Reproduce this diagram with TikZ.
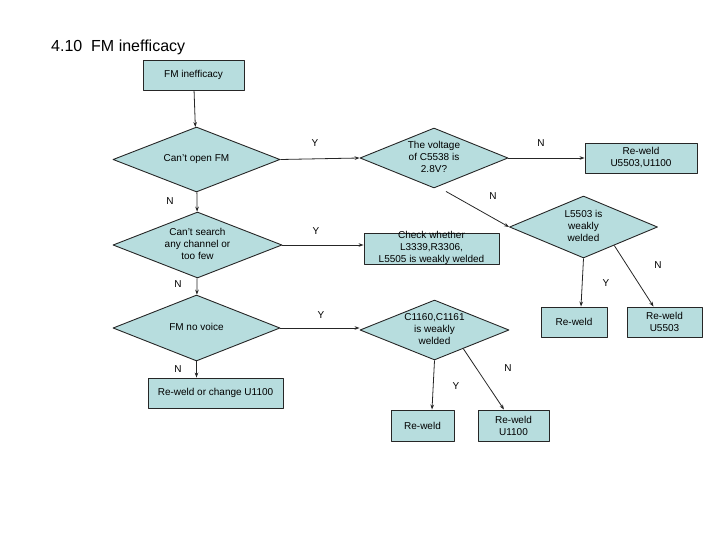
\documentclass[tikz,border=0pt]{standalone}
\usepackage{fontspec}
\setmainfont{Liberation Sans}
\usetikzlibrary{shapes.geometric,arrows.meta}
\definecolor{boxfill}{RGB}{183,221,222}
\newcommand{\flattext}[1]{\smash{\makebox[0pt]{\raisebox{-2.5pt}{\begin{tabular}{@{}c@{}}#1\end{tabular}}}}}
\tikzset{
	box/.style={draw=black!85,fill=boxfill,line width=0.9pt,rectangle,inner sep=0pt,align=center},
	dec/.style={draw=black!85,fill=boxfill,line width=0.9pt,diamond,inner sep=0pt,align=center},
	lbl/.style={inner sep=0pt},
	con/.style={->,line width=0.8pt,draw=black!85}
}
\begin{document}
\begin{tikzpicture}[x=1pt,y=-1pt,>={Stealth[length=5pt,width=3.6pt]},line join=round,font=\fontsize{10}{12}\selectfont]
	\useasboundingbox (0,0) rectangle (720,540);
	\node[anchor=base west,inner sep=0pt,font=\fontsize{16}{19}\selectfont] (title) at (51,52) {4.10\ \ FM inefficacy};
	% left column
	\node[box,minimum width=101pt,minimum height=30pt] (start) at (193.5,75) {FM inefficacy};
	\node[dec,minimum width=167pt,minimum height=65pt] (open) at (196.5,159.5) {\flattext{Can't open FM}};
	\node[dec,minimum width=169pt,minimum height=66pt] (search) at (197.5,245) {\flattext{Can't search\\any channel or\\too few}};
	\node[dec,minimum width=167pt,minimum height=66pt] (voice) at (196.5,328) {\flattext{FM no voice}};
	\node[box,minimum width=135pt,minimum height=30pt] (change) at (215.5,393) {Re-weld or change U1100};
	% middle column
	\node[dec,minimum width=148pt,minimum height=60pt] (volt) at (434,158) {\flattext{The voltage\\of C5538 is\\2.8V?}};
	\node[box,minimum width=135pt,minimum height=31pt] (check) at (431.5,248.5)
		{\flattext{Check whether\\L3339,R3306,\\L5505 is weakly welded}};
	\node[dec,minimum width=149pt,minimum height=60pt] (cweld) at (434.5,330) {\flattext{C1160,C1161\\is weakly\\welded}};
	\node[box,minimum width=63pt,minimum height=31pt] (rwa) at (422.5,425.5) {Re-weld};
	\node[box,minimum width=71pt,minimum height=31pt] (rwb) at (513.5,425.5) {Re-weld\\U1100};
	% right column
	\node[box,minimum width=112pt,minimum height=30pt] (rwc) at (641,158) {Re-weld\\U5503,U1100};
	\node[dec,minimum width=148pt,minimum height=62pt] (lweld) at (583.5,227) {\flattext{L5503 is\\weakly\\welded}};
	\node[box,minimum width=66pt,minimum height=30pt] (rwd) at (574,322) {Re-weld};
	\node[box,minimum width=75pt,minimum height=30pt] (rwe) at (664.5,322) {Re-weld\\U5503};
	% connectors
	\draw[con] (start) -- (open);
	\draw[con] (open) -- (search);
	\draw[con] (search) -- (voice);
	\draw[con] (voice.south) -- (voice.south |- change.north);
	\draw[con] (open.east) -- (volt.west);
	\draw[con] (volt.east) -- (rwc.west);
	\draw[con] ([xshift=12pt,yshift=-3pt]volt.south) -- (lweld.west);
	\draw[con] (search.east) -- (search.east -| check.west);
	\draw[con] (voice.east) -- (voice.east -| cweld.west);
	\draw[con] (lweld.south) -- ([xshift=7pt]rwd.north);
	\draw[con] (lweld.-31) -- ([xshift=-11pt]rwe.north);
	\draw[con] (cweld.south) -- ([xshift=9.5pt]rwa.north);
	\draw[con] (cweld.-33) -- ([xshift=-9.5pt]rwb.north);
	\foreach \x/\y/\t [count=\i] in {315/143/Y,541/143/N,493/196/N,606/283/Y,658/265/N,170/201/N,316/231/Y,178/284/N,178/369/N,321/315/Y,456/386/Y,508/368/N}
		\node[lbl] (lab\i) at (\x,\y) {\t};
\end{tikzpicture}
\end{document}
